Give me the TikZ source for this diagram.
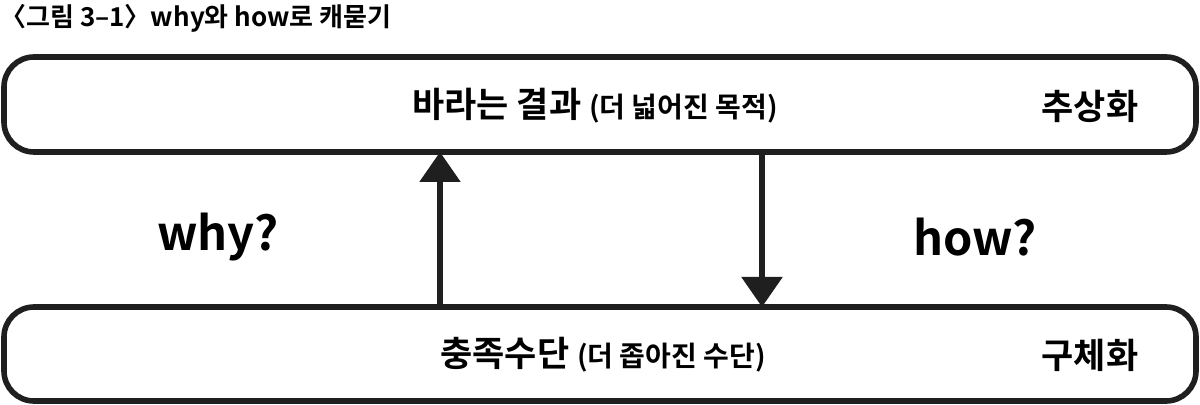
\documentclass[tikz,border=0pt]{standalone}
\usepackage{fontspec}
\setmainfont{Noto Sans CJK KR}[BoldFont={* Bold}]
\usetikzlibrary{arrows.meta}
\tikzset{
  box/.style={draw=black!88, line width=2.8pt, rounded corners=15pt},
  arr/.style={line width=2.8pt, draw=black!88, -{Triangle[width=20pt,length=15pt]}},
  big/.style={font=\bfseries\fontsize{17.5}{20}\selectfont, inner sep=0pt},
  qlab/.style={font=\bfseries\fontsize{23.5}{28}\selectfont, inner sep=0pt},
}
\newcommand{\paren}[1]{{\fontsize{14}{16}\selectfont #1}}
\begin{document}
\begin{tikzpicture}[x=0.5pt,y=-0.5pt]
\useasboundingbox (0,0) rectangle (1200,405);
\node[anchor=west, inner sep=0pt, font=\bfseries\fontsize{13}{15}\selectfont] (title) at (0,18) {〈그림 3–1〉why와 how로 캐묻기};
\draw[box] (4,57) rectangle (1196,152);
\draw[box] (4,307) rectangle (1196,401);
\coordinate (tb) at (440,152);
\coordinate (bt) at (440,307);
\coordinate (tb2) at (762,152);
\coordinate (bt2) at (762,307);
\node[big] (top) at (595,106) {바라는 결과 \paren{(더 넓어진 목적)}};
\node[big] (abs) at (1090,106) {추상화};
\node[big] (bot) at (603,355) {충족수단 \paren{(더 좁아진 수단)}};
\node[big] (con) at (1090,355) {구체화};
\node[qlab] (why) at (218,237) {why?};
\node[qlab] (how) at (975,237) {how?};
\draw[arr] (bt) -- (tb);
\draw[arr] (tb2) -- (bt2);
\end{tikzpicture}
\end{document}
